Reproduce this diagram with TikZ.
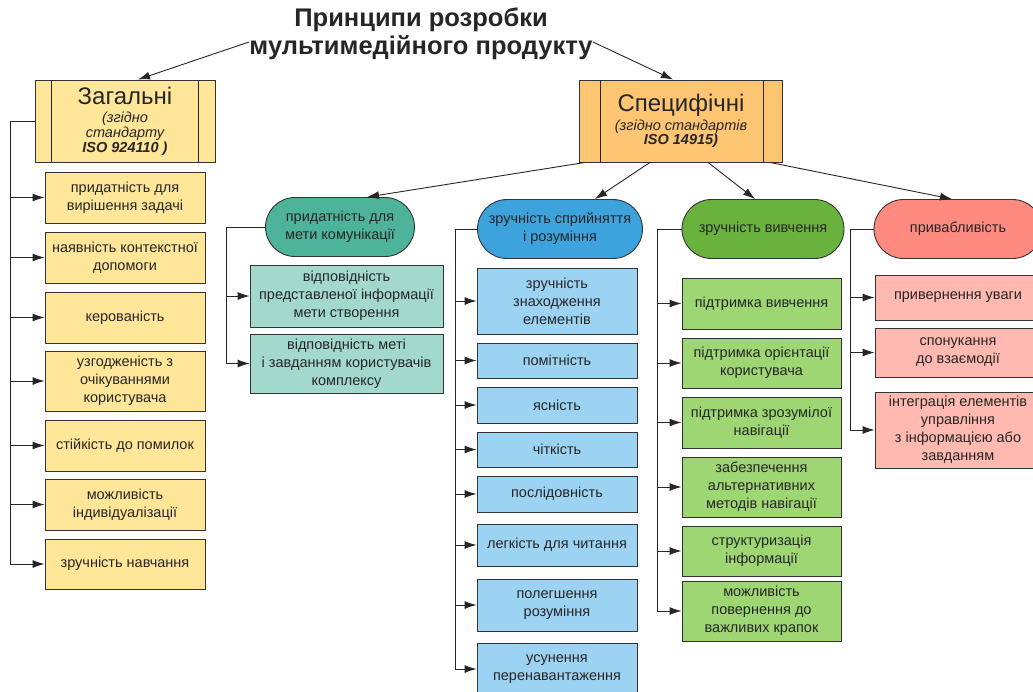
\documentclass[tikz,border=0pt]{standalone}
\usepackage{fontspec}
\setmainfont{Liberation Sans}
\usepackage{xcolor}
\usetikzlibrary{arrows.meta}

\definecolor{zagfill}{HTML}{FFE699}
\definecolor{specfill}{HTML}{FEC572}
\definecolor{tealdark}{HTML}{4DB39B}
\definecolor{teallight}{HTML}{A2D9CC}
\definecolor{bluedark}{HTML}{3CA3DD}
\definecolor{bluelight}{HTML}{9DD3F2}
\definecolor{greendark}{HTML}{6AB23E}
\definecolor{greenlight}{HTML}{9ED673}
\definecolor{reddark}{HTML}{FF8B80}
\definecolor{redlight}{HTML}{FFB9B1}

\newcommand{\headfont}{\fontsize{24}{24}\selectfont}
\newcommand{\stdfont}{\itshape\fontsize{14.5}{15}\selectfont}

\begin{document}
\begin{tikzpicture}[x=1pt, y=-1pt, >={Latex[length=12pt,width=8pt]},
	color=black!85, line width=0.9pt,
	every node/.style={font=\fontsize{14.5}{18}\selectfont},
	box/.style={draw=black!80, align=center, inner sep=1pt},
	capsule/.style={box, rounded corners=29.5pt, minimum height=59}]
	\useasboundingbox (0,0) rectangle (1033,691);
	\clip (0,0) rectangle (1033,691);

	% title and the two main groups
	\node[inner sep=0pt, align=center, font=\bfseries\fontsize{25.5}{28}\selectfont] (title) at (421,34)
		{Принципи розробки\\мультимедійного продукту};
	\node[box, fill=zagfill, minimum width=180, minimum height=82] (zag) at (125,121)
		{\headfont Загальні\\[0pt]
		 \stdfont (згідно\\[-3pt] \stdfont стандарту\\[-3pt] \stdfont\bfseries ISO 924110 )};
	\node[box, fill=specfill, minimum width=203, minimum height=82] (spec) at (681,121)
		{\headfont Специфічні\\[1pt]
		 \stdfont (згідно стандартів\\[-4pt] \stdfont\bfseries ISO 14915)};
	\draw ([xshift=17]zag.north west) -- ([xshift=17]zag.south west);
	\draw ([xshift=-17]zag.north east) -- ([xshift=-17]zag.south east);
	\draw ([xshift=21]spec.north west) -- ([xshift=21]spec.south west);
	\draw ([xshift=-20]spec.north east) -- ([xshift=-20]spec.south east);
	\draw[->] ([yshift=-8pt]title.west) -- ([xshift=13]zag.north);
	\draw[->] ([yshift=-8pt]title.east) -- ([xshift=-8]spec.north);

	% general principles
	\node[box, fill=zagfill, minimum width=160, minimum height=51] (y1) at (125,197.5) {придатність для\\вирішення задачі};
	\node[box, fill=zagfill, minimum width=160, minimum height=51] (y2) at (125,257.5) {наявність контекстної\\допомоги};
	\node[box, fill=zagfill, minimum width=160, minimum height=51] (y3) at (125,317.5) {керованість};
	\node[box, fill=zagfill, minimum width=160, minimum height=60] (y4) at (125,381) {узгодженість з\\очікуваннями\\користувача};
	\node[box, fill=zagfill, minimum width=160, minimum height=51] (y5) at (125,445.5) {стійкість до помилок};
	\node[box, fill=zagfill, minimum width=160, minimum height=51] (y6) at (125,504.5) {можливість\\індивідуалізації};
	\node[box, fill=zagfill, minimum width=160, minimum height=50] (y7) at (125,564) {зручність навчання};
	\foreach \n in {y1,y2,y3,y4,y5,y6,y7}
		\draw[->] (zag.west) -- ++(-24,0) |- (\n.west);

	% specific principles
	\node[capsule, fill=tealdark, minimum width=149] (cA) at (340,227) {придатність для\\мети комунікації};
	\node[capsule, fill=bluedark, minimum width=165] (cB) at (560,229) {зручність сприйняття\\і розуміння};
	\node[capsule, fill=greendark, minimum width=162] (cC) at (763,229) {зручність вивчення};
	\node[capsule, fill=reddark, minimum width=168] (cD) at (958,229) {привабливість};
	\draw[->] ([xshift=6]spec.south west) -- ([xshift=27]cA.north);
	\draw[->] ([xshift=-31]spec.south) -- ([xshift=35]cB.north);
	\draw[->] ([xshift=27]spec.south) -- ([xshift=-8]cC.north);
	\draw[->] ([xshift=-13]spec.south east) -- ([xshift=-6]cD.north);

	\node[box, fill=teallight, minimum width=193, minimum height=62] (t1) at (346.5,296) {відповідність\\представленої інформації\\мети створення};
	\node[box, fill=teallight, minimum width=193, minimum height=59] (t2) at (346.5,363.5) {відповідність меті\\і завданням користувачів\\комплексу};
	\foreach \n in {t1,t2}
		\draw[->] (cA.west) -- ++(-39,0) |- (\n.west);

	\node[box, fill=bluelight, minimum width=160, minimum height=66] (b1) at (557,301) {зручність\\знаходження\\елементів};
	\node[box, fill=bluelight, minimum width=160, minimum height=35] (b2) at (557,360.5) {помітність};
	\node[box, fill=bluelight, minimum width=160, minimum height=36] (b3) at (557,405) {ясність};
	\node[box, fill=bluelight, minimum width=160, minimum height=35] (b4) at (557,449.5) {чіткість};
	\node[box, fill=bluelight, minimum width=160, minimum height=36] (b5) at (557,494) {послідовність};
	\node[box, fill=bluelight, minimum width=160, minimum height=42] (b6) at (557,545) {легкість для читання};
	\node[box, fill=bluelight, minimum width=160, minimum height=52] (b7) at (557,605) {полегшення\\розуміння};
	\node[box, fill=bluelight, minimum width=160, minimum height=52] (b8) at (557,669) {усунення\\перенавантаження};
	\foreach \n in {b1,b2,b3,b4,b5,b6,b7,b8}
		\draw[->] (cB.west) -- ++(-22,0) |- (\n.west);

	\node[box, fill=greenlight, minimum width=159, minimum height=51] (g1) at (761.5,303.5) {підтримка вивчення};
	\node[box, fill=greenlight, minimum width=159, minimum height=50] (g2) at (761.5,363) {підтримка орієнтації\\користувача};
	\node[box, fill=greenlight, minimum width=159, minimum height=51] (g3) at (761.5,422.5) {підтримка зрозумілої\\навігації};
	\node[box, fill=greenlight, minimum width=159, minimum height=60] (g4) at (761.5,487) {забезпечення\\альтернативних\\методів навігації};
	\node[box, fill=greenlight, minimum width=159, minimum height=50] (g5) at (761.5,551) {структуризація\\інформації};
	\node[box, fill=greenlight, minimum width=159, minimum height=60] (g6) at (761.5,611) {можливість\\повернення до\\важливих крапок};
	\foreach \n in {g1,g2,g3,g4,g5,g6}
		\draw[->] (cC.west) -- ++(-24,0) |- (\n.west);

	\node[box, fill=redlight, minimum width=166, minimum height=45] (s1) at (958,297.5) {привернення уваги};
	\node[box, fill=redlight, minimum width=166, minimum height=49] (s2) at (958,352.5) {спонукання\\до взаємодії};
	\node[box, fill=redlight, minimum width=166, minimum height=76] (s3) at (958,430) {інтеграція елементів\\управління\\з інформацією або\\завданням};
	\foreach \n in {s1,s2,s3}
		\draw[->] (cD.west) -- ++(-23,0) |- (\n.west);
\end{tikzpicture}
\end{document}
